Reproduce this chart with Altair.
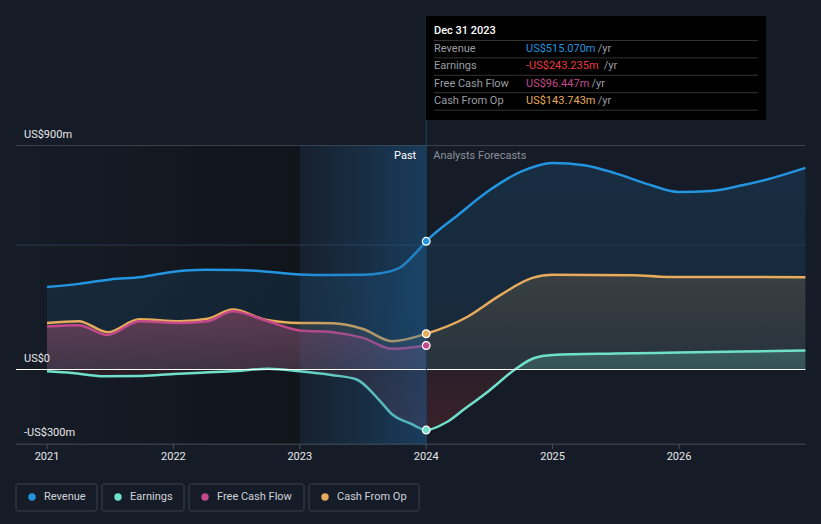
import altair as alt
import pandas as pd

# ---------------- data ----------------
rev_t = [2021.0, 2021.25, 2021.5, 2021.75, 2022.0, 2022.25, 2022.5, 2022.75, 2023.0, 2023.25, 2023.5,
         2023.65, 2023.8, 2023.92, 2024.0, 2024.25, 2024.5, 2024.75, 2025.0, 2025.25, 2025.5, 2025.75,
         2026.0, 2026.25, 2026.5, 2026.75, 2027.0]
rev_v = [331, 344, 362, 372, 393, 401, 400, 393, 382, 380, 381,
         388, 412, 470, 515.07, 620, 720, 795, 830, 821, 788, 745,
         713, 717, 740, 771, 810]

earn_t = [2021.0, 2021.2, 2021.45, 2021.75, 2022.0, 2022.25, 2022.5, 2022.75, 2023.0, 2023.25, 2023.45,
          2023.63, 2023.73, 2023.88, 2024.0, 2024.16, 2024.3, 2024.5, 2024.71, 2024.85, 2025.0, 2025.5,
          2026.0, 2026.5, 2027.0]
earn_v = [-7, -14, -27, -26, -18, -12, -6, 3, -7, -22, -40,
          -124, -180, -218, -243.235, -212, -160, -84, 3, 45, 58, 64,
          68, 72, 76]

fcf_t = [2021.0, 2021.25, 2021.48, 2021.73, 2022.05, 2022.27, 2022.47, 2022.73, 2023.0, 2023.26, 2023.5,
         2023.73, 2024.0]
fcf_v = [173, 178, 139, 194, 187, 194, 234, 197, 157, 150, 127, 83, 96.447]

cfo_t = [2021.0, 2021.25, 2021.48, 2021.73, 2022.05, 2022.27, 2022.47, 2022.73, 2023.0, 2023.26, 2023.5,
         2023.73, 2024.0, 2024.32, 2024.58, 2024.84, 2025.0, 2025.64, 2025.91, 2027.0]
cfo_v = [187, 194, 150, 202, 194, 204, 241, 200, 187, 186, 163,
         114, 143.743, 210, 297, 368, 381, 379, 372, 371]

series_names = ["Revenue", "Earnings", "Free Cash Flow", "Cash From Op"]
series_colors = ["#2394df", "#6fe0ca", "#c4488c", "#e6ab5b"]
tooltip_values = ["US$515.070m", "-US$243.235m", "US$96.447m", "US$143.743m"]
tooltip_colors = ["#2394df", "#ec3b3f", "#c4488c", "#e6ab5b"]
tooltip_title = "Dec 31 2023"

y_ticks = [900, 0, -300]
y_tick_labels = ["US$900m", "US$0", "-US$300m"]
x_years = [2021, 2022, 2023, 2024, 2025, 2026]
x_labels = ["2021", "2022", "2023", "2024", "2025", "2026"]
now_t = 2024.0

# ---------------- layout ----------------
W, H = 821, 524
BG = "#161c27"
FONT = "Roboto"
PX_PER_YEAR = 126.4
PX_PER_M = 224 / 900
ZERO_PX = 369.5
X0 = 2021 - 47 / PX_PER_YEAR
X1 = 2021 + (W - 47) / PX_PER_YEAR
Y1 = (ZERO_PX) / PX_PER_M
Y0 = -(H - ZERO_PX) / PX_PER_M
X_LEFT = 2021 - 31 / PX_PER_YEAR     # left edge of grid (x=16 px)
X_RIGHT = 2027.0                      # right edge of plot
Y_TOP_LINE = Y1 - 16 / PX_PER_M       # top of the "now" indicator

xs = alt.Scale(domain=[X0, X1], nice=False, zero=False)
ys = alt.Scale(domain=[Y0, Y1], nice=False, zero=False)


def X(field="t"):
    return alt.X(f"{field}:Q", scale=xs, axis=None)


def Y(field="v"):
    return alt.Y(f"{field}:Q", scale=ys, axis=None)


def XD(v):
    return alt.XDatum(v, scale=xs, axis=None)


def YD(v):
    return alt.YDatum(v, scale=ys, axis=None)


def df(t, v):
    return pd.DataFrame({"t": t, "v": v})


rev = df(rev_t, rev_v)
earn = df(earn_t, earn_v)
fcf = df(fcf_t, fcf_v)
cfo = df(cfo_t, cfo_v)

base = alt.Chart(pd.DataFrame({"a": [0]}))


def grad(stops, horizontal=False):
    if horizontal:
        return alt.LinearGradient(gradient="linear", x1=0, x2=1, y1=0, y2=0,
                                  stops=[alt.GradientStop(color=c, offset=o) for o, c in stops])
    return alt.LinearGradient(gradient="linear", x1=0, x2=0, y1=0, y2=1,
                              stops=[alt.GradientStop(color=c, offset=o) for o, c in stops])


# past dark region
past_dark = base.mark_rect(
    color=grad([(0, "#161c27"), (1, "#10141b")], horizontal=True)
).encode(x=XD(X_LEFT), x2=alt.datum(2023), y=YD(900), y2=alt.datum(-300))

# areas
rev_area = alt.Chart(rev).mark_area(interpolate="monotone",
                                    color=grad([(0, "rgba(35,148,223,0.14)"), (1, "rgba(35,148,223,0.10)")])).encode(
    x=X(), y=Y(), y2=alt.datum(0))
cfo_area = alt.Chart(cfo).mark_area(interpolate="monotone",
                                    color=grad([(0, "rgba(230,171,91,0.16)"), (1, "rgba(230,171,91,0.08)")])).encode(
    x=X(), y=Y(), y2=alt.datum(0))
fcf_area = alt.Chart(fcf).mark_area(interpolate="monotone",
                                    color=grad([(0, "rgba(196,72,140,0.32)"), (1, "rgba(196,72,140,0.16)")])).encode(
    x=X(), y=Y(), y2=alt.datum(0))
emax, emin = max(earn_v), min(earn_v)
frac = emax / (emax - emin)
earn_area = alt.Chart(earn).mark_area(
    interpolate="monotone",
    color=grad([(0, "rgba(111,224,202,0.22)"), (frac, "rgba(111,224,202,0.18)"),
                (frac + 0.001, "rgba(236,59,63,0.10)"), (1, "rgba(236,59,63,0.16)")])
).encode(x=X(), y=Y(), y2=alt.datum(0))


# gridlines
def hline(v, color):
    return base.mark_rule(color=color, strokeWidth=1).encode(x=XD(X_LEFT), x2=alt.datum(X_RIGHT), y=YD(v))


grid900 = hline(900, "#3b4049")
grid500 = hline(500, "#2a3a4c")
axis_line = hline(-300, "#4a4f58")
tick_df = pd.DataFrame({"t": x_years})
ticks = alt.Chart(tick_df).mark_rule(color="#4a4f58", strokeWidth=1).encode(
    x=X(), y=alt.value(444), y2=alt.value(449))


# lines
def line(d, c):
    return alt.Chart(d).mark_line(interpolate="monotone", color=c, strokeWidth=2.5).encode(x=X(), y=Y())


rev_line = line(rev, series_colors[0])
cfo_line = line(cfo, series_colors[3])
fcf_line = line(fcf, series_colors[2])
earn_line = line(earn, series_colors[1])

# highlight band (last year of past)
band = base.mark_rect(
    color=grad([(0, "rgba(30,90,140,0.08)"), (1, "rgba(30,105,165,0.42)")], horizontal=True)
).encode(x=XD(2023), x2=alt.datum(now_t), y=YD(900), y2=alt.datum(-300))

zero_line = hline(0, "#ffffff")

now_line = base.mark_rule(color="#21405e", strokeWidth=1).encode(
    x=XD(now_t), y=YD(Y_TOP_LINE), y2=alt.datum(-300))

# points at now
pt_df = pd.DataFrame({
    "t": [now_t] * 4,
    "v": [rev_v[rev_t.index(now_t)], earn_v[earn_t.index(now_t)], fcf_v[fcf_t.index(now_t)], cfo_v[cfo_t.index(now_t)]],
    "col": series_colors,
})
points = alt.Chart(pt_df).mark_point(filled=True, size=60, stroke="#ffffff", strokeWidth=1.2, opacity=1).encode(
    x=X(), y=Y(), fill=alt.Fill("col:N", scale=None))

# axis labels
ylab_df = pd.DataFrame({"v": y_ticks, "lab": y_tick_labels})
ylabels = alt.Chart(ylab_df).mark_text(font=FONT, fontSize=11, color="#e6e8ea", align="left",
                                       baseline="alphabetic", dy=-8).encode(
    x=alt.value(24), y=Y(), text="lab:N")
xlab_df = pd.DataFrame({"t": x_years, "lab": x_labels})
xlabels = alt.Chart(xlab_df).mark_text(font=FONT, fontSize=11, color="#e6e8ea", align="center",
                                       baseline="middle").encode(
    x=X(), y=alt.value(457), text="lab:N")

past_txt = base.mark_text(font=FONT, fontSize=11, color="#ffffff", align="right", baseline="middle", dx=-10,
                          text="Past").encode(x=XD(now_t), y=alt.value(156))
fc_txt = base.mark_text(font=FONT, fontSize=11, color="#8b9099", align="left", baseline="middle", dx=7,
                        text="Analysts Forecasts").encode(x=XD(now_t), y=alt.value(156))

# tooltip box
tip_box = base.mark_rect(color="#000000").encode(
    x=alt.value(426), x2=alt.value(766), y=alt.value(16), y2=alt.value(120))
tip_title = base.mark_text(font=FONT, fontSize=11, fontWeight=500, color="#ffffff", align="left", baseline="middle",
                           text=tooltip_title).encode(x=alt.value(434), y=alt.value(31))
row_y = [49 + i * 17.4 for i in range(4)]
tip_df = pd.DataFrame({
    "name": series_names,
    "val": tooltip_values,
    "col": tooltip_colors,
    "py": row_y,
    "ux": [526 + len(v) * 6.15 + 4 for v in tooltip_values],
})
sep_df = pd.DataFrame({"sep": [y - 8.5 for y in row_y] + [row_y[-1] + 9]})
tip_seps = alt.Chart(sep_df).mark_rule(color="#333333", strokeWidth=1).encode(
    x=alt.value(434), x2=alt.value(758), y=alt.Y("sep:Q", scale=None))
tip_names = alt.Chart(tip_df).mark_text(font=FONT, fontSize=11, color="#9a9ea4", align="left", baseline="middle").encode(
    x=alt.value(434), y=alt.Y("py:Q", scale=None), text="name:N")
tip_vals = alt.Chart(tip_df).mark_text(font=FONT, fontSize=11, align="left", baseline="middle").encode(
    x=alt.value(526), y=alt.Y("py:Q", scale=None), text="val:N",
    color=alt.Color("col:N", scale=None))
tip_units = alt.Chart(tip_df).mark_text(font=FONT, fontSize=11, color="#9a9ea4", align="left", baseline="middle",
                                        text="/yr").encode(
    x=alt.X("ux:Q", scale=None), y=alt.Y("py:Q", scale=None))

# custom legend
box_w = [81, 82, 115, 110]
box_x = []
cur = 16
for w in box_w:
    box_x.append(cur)
    cur += w + 5
leg_df = pd.DataFrame({
    "name": series_names,
    "col": series_colors,
    "bx": box_x,
    "bx2": [x + w for x, w in zip(box_x, box_w)],
    "dx": [x + 16 for x in box_x],
    "tx": [x + 28 for x in box_x],
})
leg_box = alt.Chart(leg_df).mark_rect(fill=BG, stroke="#3d434d", strokeWidth=1, cornerRadius=2).encode(
    x=alt.X("bx:Q", scale=None), x2="bx2:Q", y=alt.value(484), y2=alt.value(511))
leg_dot = alt.Chart(leg_df).mark_circle(size=55, opacity=1).encode(
    x=alt.X("dx:Q", scale=None), y=alt.value(497), color=alt.Color("col:N", scale=None))
leg_txt = alt.Chart(leg_df).mark_text(font=FONT, fontSize=11, color="#cfd3d9", align="left", baseline="middle").encode(
    x=alt.X("tx:Q", scale=None), y=alt.value(497), text="name:N")

chart = alt.layer(
    past_dark, rev_area, cfo_area, fcf_area, earn_area,
    grid900, grid500, axis_line, ticks,
    rev_line, cfo_line, fcf_line, earn_line,
    band, zero_line, now_line, points,
    ylabels, xlabels, past_txt, fc_txt,
    tip_box, tip_seps, tip_title, tip_names, tip_vals, tip_units,
    leg_box, leg_dot, leg_txt,
).properties(
    width=W, height=H, background=BG, padding=0, autosize="none"
).configure_view(strokeWidth=0)

chart.save("out.html", embed_options={"renderer": "svg", "actions": False})
